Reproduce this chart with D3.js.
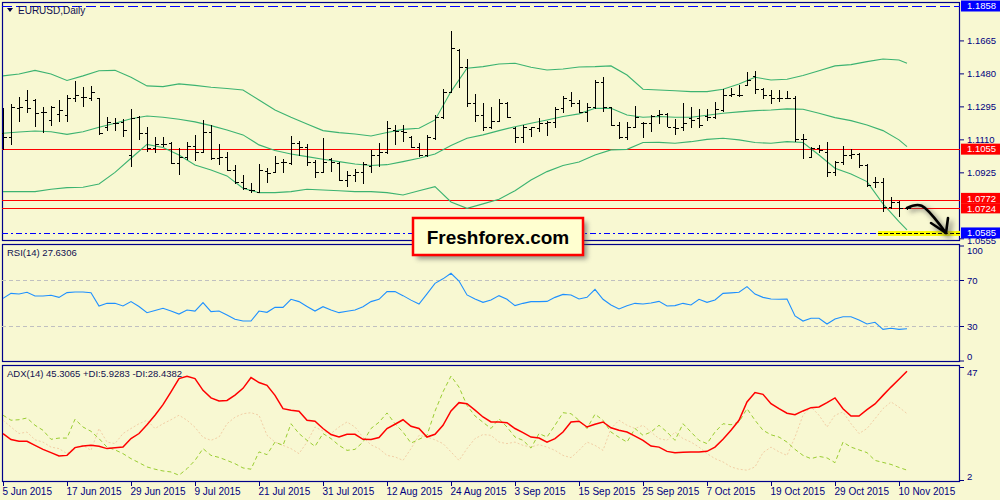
<!DOCTYPE html>
<html>
<head>
<meta charset="utf-8">
<script src="https://cdn.jsdelivr.net/npm/d3@7"></script>
<style>
  body { margin: 0; background: #f8f8d2; }
  svg { display: block; }
</style>
</head>
<body>
<svg id="chart"></svg>
<script>
const width = 1000;
const height = 500;

// date ticks (bar index -> label)
const tickIdx = [0, 8, 16, 24, 32, 40, 48, 56, 64, 72, 80, 88, 96, 104, 112];
const tickLabels = ["5 Jun 2015", "17 Jun 2015", "29 Jun 2015", "9 Jul 2015", "21 Jul 2015",
  "31 Jul 2015", "12 Aug 2015", "24 Aug 2015", "3 Sep 2015", "15 Sep 2015", "25 Sep 2015",
  "7 Oct 2015", "19 Oct 2015", "29 Oct 2015", "10 Nov 2015"];

// price axis
const priceTicks = [1.1665, 1.1480, 1.1295, 1.1110, 1.0925, 1.0555];
const redLevels = [1.1055, 1.0772, 1.0724];
const blueLevels = [1.1858, 1.0585];

// EURUSD daily bars
const opens = [1.1144,1.1125,1.1284,1.1331,1.1331,1.1261,1.1219,1.1253,1.1247,1.1340,1.1350,1.1340,1.1340,1.1182,1.1204,1.1210,
  1.1023,1.1238,1.1144,1.1060,1.1084,1.1088,1.0976,1.1013,1.1075,1.1041,1.1153,1.1004,1.1013,1.0938,1.0873,1.0826,
  1.0817,1.0935,1.0929,1.0985,1.0976,1.1092,1.1069,1.0985,1.0929,1.0998,1.0976,1.0882,1.0910,1.0929,1.0961,1.1023,
  1.1041,1.1163,1.1159,1.1125,1.1069,1.1023,1.1116,1.1238,1.1378,1.1612,1.1518,1.1312,1.1247,1.1182,1.1215,1.1312,
  1.1172,1.1125,1.1167,1.1172,1.1204,1.1210,1.1284,1.1331,1.1316,1.1266,1.1290,1.1434,1.1290,1.1191,1.1125,1.1182,
  1.1204,1.1200,1.1247,1.1253,1.1182,1.1182,1.1229,1.1229,1.1241,1.1234,1.1275,1.1359,1.1359,1.1415,1.1466,1.1391,
  1.1359,1.1340,1.1340,1.1344,1.1110,1.1013,1.1060,1.1041,1.0929,1.0985,1.1023,1.1028,1.0966,1.0873,1.0873,1.0733,
  1.0761,1.0723];
const highs = [1.1284,1.1309,1.1346,1.1387,1.1335,1.1294,1.1298,1.1331,1.1359,1.1438,1.1402,1.1410,1.1344,1.1238,1.1229,1.1223,
  1.1281,1.1242,1.1182,1.1125,1.1122,1.1097,1.1060,1.1097,1.1135,1.1219,1.1191,1.1084,1.1041,1.0966,1.0910,1.0867,
  1.0972,1.0948,1.1017,1.0998,1.1129,1.1103,1.1084,1.0994,1.1120,1.1004,1.0985,1.0935,1.0942,1.0981,1.1051,1.1092,
  1.1215,1.1191,1.1191,1.1129,1.1092,1.1135,1.1247,1.1391,1.1720,1.1615,1.1559,1.1363,1.1312,1.1294,1.1335,1.1322,
  1.1182,1.1191,1.1182,1.1229,1.1215,1.1294,1.1353,1.1378,1.1331,1.1312,1.1443,1.1462,1.1294,1.1206,1.1210,1.1298,
  1.1210,1.1247,1.1275,1.1257,1.1223,1.1316,1.1290,1.1282,1.1282,1.1322,1.1391,1.1396,1.1415,1.1490,1.1494,1.1396,
  1.1387,1.1387,1.1383,1.1353,1.1140,1.1069,1.1079,1.1097,1.0991,1.1073,1.1056,1.1032,1.0972,1.0901,1.0892,1.0789,
  1.0766,1.0731];
const lows = [1.1051,1.1079,1.1210,1.1257,1.1182,1.1148,1.1186,1.1210,1.1210,1.1322,1.1290,1.1327,1.1135,1.1157,1.1159,1.1125,
  1.0954,1.1107,1.1041,1.1032,1.1069,1.0972,1.0910,1.0994,1.0991,1.1032,1.0994,1.0965,1.0935,1.0860,1.0826,1.0807,
  1.0811,1.0867,1.0929,1.0923,1.0966,1.1017,1.0961,1.0892,1.0920,1.0929,1.0879,1.0845,1.0873,1.0858,1.0923,1.0957,
  1.1028,1.1079,1.1097,1.1060,1.1013,1.1013,1.1107,1.1226,1.1368,1.1396,1.1290,1.1206,1.1157,1.1166,1.1210,1.1229,
  1.1088,1.1088,1.1122,1.1153,1.1131,1.1172,1.1260,1.1290,1.1257,1.1210,1.1279,1.1266,1.1186,1.1110,1.1107,1.1172,
  1.1116,1.1150,1.1196,1.1180,1.1135,1.1157,1.1172,1.1176,1.1213,1.1223,1.1266,1.1346,1.1350,1.1410,1.1365,1.1335,
  1.1309,1.1322,1.1335,1.1097,1.0998,1.1004,1.1032,1.0897,1.0905,1.0966,1.0998,1.0948,1.0845,1.0836,1.0705,1.0718,
  1.0673,1.0716];
const closes = [1.1125,1.1294,1.1294,1.1284,1.1257,1.1261,1.1290,1.1275,1.1340,1.1359,1.1350,1.1378,1.1144,1.1210,1.1204,1.1163,
  1.1229,1.1144,1.1060,1.1084,1.1084,1.0976,1.1013,1.1075,1.1041,1.1153,1.1004,1.1013,1.0938,1.0873,1.0836,1.0826,
  1.0938,1.0920,1.0976,1.0985,1.1088,1.1069,1.0985,1.0929,1.0985,1.0985,1.0882,1.0910,1.0929,1.0972,1.1023,1.1041,
  1.1172,1.1159,1.1153,1.1069,1.1023,1.1125,1.1238,1.1378,1.1621,1.1518,1.1312,1.1247,1.1182,1.1215,1.1312,1.1234,
  1.1125,1.1182,1.1182,1.1200,1.1210,1.1279,1.1340,1.1312,1.1266,1.1290,1.1434,1.1294,1.1191,1.1125,1.1182,1.1238,
  1.1200,1.1241,1.1253,1.1182,1.1172,1.1200,1.1219,1.1191,1.1234,1.1281,1.1359,1.1363,1.1359,1.1443,1.1391,1.1359,
  1.1340,1.1340,1.1344,1.1110,1.1110,1.1060,1.1051,1.0929,1.0985,1.1023,1.1028,1.0966,1.0854,1.0873,1.0733,1.0761,
  1.0723,1.0726];

// Bollinger bands, read every second bar
const bandIdx = [0,2,4,6,8,10,12,14,16,18,20,22,24,26,28,30,32,34,36,38,40,42,44,46,48,50,52,54,56,58,60,62,
  64,66,68,70,72,74,76,78,80,82,84,86,88,90,92,94,96,98,100,102,104,106,108,110,112,113];
const bbUpper = [1.1466,1.1477,1.1497,1.1477,1.1440,1.1466,1.1495,1.1497,1.1458,1.1410,1.1406,1.1421,1.1413,1.1402,1.1395,1.1387,
  1.1331,1.1275,1.1234,1.1196,1.1159,1.1148,1.1140,1.1129,1.1148,1.1166,1.1172,1.1219,1.1378,1.1509,1.1518,1.1533,
  1.1537,1.1514,1.1499,1.1505,1.1516,1.1518,1.1522,1.1471,1.1391,1.1387,1.1383,1.1378,1.1378,1.1391,1.1421,
  1.1458,1.1443,1.1447,1.1468,1.1495,1.1522,1.1529,1.1546,1.1561,1.1555,1.1537];
const bbMiddle = [1.1144,1.1151,1.1157,1.1153,1.1138,1.1153,1.1178,1.1200,1.1226,1.1241,1.1234,1.1223,1.1208,1.1187,1.1163,1.1135,
  1.1079,1.1047,1.1028,1.1013,1.0998,1.0985,1.0972,1.0963,1.0968,1.0985,1.1004,1.1028,1.1075,1.1116,1.1135,1.1159,
  1.1181,1.1200,1.1219,1.1238,1.1253,1.1284,1.1284,1.1247,1.1234,1.1238,1.1234,1.1234,1.1245,1.1256,1.1264,
  1.1271,1.1275,1.1281,1.1279,1.1256,1.1232,1.1215,1.1191,1.1159,1.1107,1.1069];
const bbLower = [1.0817,1.0817,1.0817,1.0830,1.0839,1.0841,1.0860,1.0925,1.1004,1.1082,1.1064,1.1022,1.0966,1.0938,1.0905,1.0836,
  1.0811,1.0811,1.0817,1.0830,1.0826,1.0822,1.0817,1.0817,1.0811,1.0798,1.0822,1.0845,1.0759,1.0723,1.0748,1.0774,
  1.0822,1.0882,1.0929,1.0963,1.0983,1.1022,1.1051,1.1054,1.1092,1.1093,1.1088,1.1097,1.1110,1.1116,1.1107,
  1.1092,1.1088,1.1097,1.1092,1.1022,1.0948,1.0916,1.0873,1.0748,1.0649,1.0602];

// RSI(14), one value per bar
const rsi = [54,58.4,57.8,59.3,56.1,56.1,56.7,54.9,59,59.6,59.6,59,47.4,49.7,49.7,47.4,
  51.2,47,41.6,43.5,45.4,43,40.4,43.9,43,50.3,42.5,43,39.5,35.8,34.3,34.3,
  43,41.9,46.2,46.2,53.2,51.2,47,43,46.8,44,41.6,42.8,43.9,46.8,51.2,53.2,
  59.9,59.9,56.4,52.5,49.1,58,67.1,71,75.8,69.1,57,53.5,50.6,52.6,56.4,53.2,
  47.7,49.7,51.2,51.2,51.4,54.9,57.5,56.9,53.5,54.9,61.9,53.2,48.3,44.8,47.7,49.7,
  49.1,50,51.4,47.4,47.7,49.7,48.3,53.2,50.6,52.6,58.4,58.8,59.3,64.2,57.8,54.9,
  53.5,53.2,53.5,38.7,34.3,36.7,36.7,31.7,36.1,38.1,38.1,35.2,31.7,33.2,27.1,28,
  27.1,27.63];
const rsiLevels = [30, 70];
const rsiTicks = [100, 70, 30, 0];

// ADX(14) with +DI / -DI, one value per bar
const adx = [20.5,18.1,17.4,17.4,15.8,14.2,12.9,11.6,11.8,14.9,15.5,15.8,15.4,14.5,14.8,15.1,
  18.5,20.5,24,27.8,32,37.1,42.4,43.3,42.4,37.7,34.7,33.5,33.7,35.8,38.5,42.8,
  40.8,39.7,35.7,30.4,29.8,29.4,25.8,25.4,22.5,20.1,19.1,20.2,20.2,18.2,18.1,18.9,
  22.5,24.2,26,23.4,22.5,19.1,20.2,23.8,29.5,32.8,32.4,29.8,27.1,25.1,25.1,24.8,
  22.5,20.9,19.1,18.7,17.1,18.5,21.1,25.1,25.4,23.1,24.2,25.1,22.8,21.8,21.1,19.5,
  17.8,15.5,15.1,13.4,12.9,13.1,13.2,13.2,13.4,15.1,18.2,21.8,25.8,33.1,36.8,36.1,
  32.4,30.4,28.6,28,29.5,30.8,31.1,32.8,34.7,30.4,27.5,27.5,30,32.3,35.7,39,
  42.1,45.31];
const plusDI = [27.8,25.8,26,26.7,23.8,21.8,18.2,18.7,18.7,26.2,23.1,21.4,18.5,15.1,14,12.5,
  10.5,8.9,7.2,6.3,5.6,5.2,3.9,6.5,9.8,14.5,11.8,11,9.8,8.5,6.8,6.3,
  13.2,12.1,17.1,15.8,24.4,20.5,17.8,15.4,20.5,18.5,15.8,13.8,14.2,17.1,22.5,25,
  28.7,24.4,21.1,16.7,18.2,19.8,29.4,37.1,43.4,39,31.7,27.5,25,22.5,26.4,23.1,
  19.1,17.8,14.7,20.5,19.1,23.8,28.8,28.4,25.8,22.5,28.2,25.8,21.1,19,17.1,22.5,
  19.8,21.1,23.8,21.1,17.8,24.4,21.1,17.8,16.5,21.1,24.4,24,25.1,30.4,25.8,21.8,
  20,19.1,17.1,14.2,11.8,10.5,11.4,10.8,8.9,17.1,15.1,14,12.9,9.8,9,8.2,
  7,5.93];
const minusDI = [25.8,23.1,20.5,21.1,18,17.1,15.1,14.5,12.5,15.1,15.8,13.8,22.5,17.1,16.5,20.5,
  22.5,24.4,25.8,22.5,24.4,26,27.8,25.8,23,19,17.8,19.1,24.4,27,28.4,28.8,
  27.8,19.8,17.1,15.8,14.5,12.5,17.1,23.1,21.5,20.5,23.1,25.1,23.1,19,16,14.5,
  11.8,11.2,9.8,14.5,19.8,19.1,18,16.5,13.2,9.8,14.5,18.5,20.1,19.8,17.1,16.5,
  17.1,15.8,15.1,16.1,15.1,13.8,11.8,10.9,13.8,17.1,15.8,13.8,22.5,25.8,23.8,22.5,
  23.8,21.1,18.5,17.8,21.1,18.5,17.1,15.1,12.5,10.5,9.2,7.2,6.3,5.9,7.2,12.9,
  15.1,13.2,11.8,19.1,27.8,31.1,27.8,23.1,27.8,29.1,24.4,20.5,22.5,26.4,30.4,33.1,
  31,28.44];
const adxTicks = [47, 2];

const font = "'Liberation Sans', Arial, sans-serif";
const navy = "#000080";

let svg = d3.select("#chart")
  .attr("width", width)
  .attr("height", height)
  .style("background", "#f8f8d2");

// panels
const left = 2, right = 960;
const panels = {
  main: {top: 2, bottom: 241},
  rsi: {top: 244, bottom: 362},
  adx: {top: 365, bottom: 482}
};

const x = d3.scaleLinear().domain([0, 112]).range([3, 899]);
const yPrice = d3.scaleLinear().domain([1.0555, 1.1858]).range([238.3, 6]);
const yRsi = d3.scaleLinear().domain([0, 100]).range([360.5, 245.5]);
const yAdx = d3.scaleLinear().domain([2, 47]).range([480, 367]);

let defs = svg.append("defs");
Object.keys(panels).forEach(function(k) {
  defs.append("clipPath").attr("id", "clip-" + k)
    .append("rect")
    .attr("x", left).attr("y", panels[k].top)
    .attr("width", right - left).attr("height", panels[k].bottom - panels[k].top);
});
let shadow = defs.append("filter").attr("id", "shadow")
  .attr("x", "-20%").attr("y", "-20%").attr("width", "150%").attr("height", "160%");
shadow.append("feGaussianBlur").attr("stdDeviation", 2.5);

Object.keys(panels).forEach(function(k) {
  svg.append("rect")
    .attr("x", left + 0.5).attr("y", panels[k].top + 0.5)
    .attr("width", right - left - 1).attr("height", panels[k].bottom - panels[k].top - 1)
    .attr("fill", "#f8f8d2")
    .attr("stroke", "#00008b")
    .attr("stroke-width", 1.2);
});

// ---------- main panel ----------
let main = svg.append("g").attr("clip-path", "url(#clip-main)");

// horizontal levels
main.selectAll(".red-level").data(redLevels).enter().append("line")
  .attr("x1", left).attr("x2", right)
  .attr("y1", d => Math.round(yPrice(d)) + 0.5).attr("y2", d => Math.round(yPrice(d)) + 0.5)
  .attr("stroke", "#ff0000").attr("stroke-width", 1);

main.append("line")
  .attr("x1", left).attr("x2", right)
  .attr("y1", Math.round(yPrice(blueLevels[0])) + 0.5).attr("y2", Math.round(yPrice(blueLevels[0])) + 0.5)
  .attr("stroke", "#0000ff").attr("stroke-dasharray", "10,4");
main.append("line")
  .attr("x1", left).attr("x2", right)
  .attr("y1", Math.round(yPrice(blueLevels[1])) + 0.5).attr("y2", Math.round(yPrice(blueLevels[1])) + 0.5)
  .attr("stroke", "#0000ff").attr("stroke-dasharray", "6,3,2,3");

// yellow target zone
main.append("rect")
  .attr("x", 878).attr("y", yPrice(blueLevels[1]) - 2)
  .attr("width", right - 878).attr("height", 5)
  .attr("fill", "#ffff00");
main.append("line")
  .attr("x1", 878).attr("x2", right)
  .attr("y1", Math.round(yPrice(blueLevels[1])) + 0.5).attr("y2", Math.round(yPrice(blueLevels[1])) + 0.5)
  .attr("stroke", "#000").attr("stroke-dasharray", "4,2");

// bollinger bands
let bandLine = d3.line()
  .x((d, k) => x(bandIdx[k]))
  .y(d => yPrice(d));
[bbUpper, bbMiddle, bbLower].forEach(function(band) {
  main.append("path")
    .attr("d", bandLine(band))
    .attr("fill", "none")
    .attr("stroke", "#3cb371")
    .attr("stroke-width", 1.1);
});

// OHLC bars
let bars = main.append("g")
  .attr("stroke", "#000")
  .attr("stroke-width", 1)
  .attr("shape-rendering", "crispEdges");
closes.forEach(function(c, i) {
  const bx = Math.round(x(i)) + 0.5;
  bars.append("line")
    .attr("x1", bx).attr("x2", bx)
    .attr("y1", yPrice(highs[i])).attr("y2", yPrice(lows[i]));
  bars.append("line")
    .attr("x1", bx - 3).attr("x2", bx)
    .attr("y1", Math.round(yPrice(opens[i])) + 0.5).attr("y2", Math.round(yPrice(opens[i])) + 0.5);
  bars.append("line")
    .attr("x1", bx).attr("x2", bx + 3)
    .attr("y1", Math.round(yPrice(c)) + 0.5).attr("y2", Math.round(yPrice(c)) + 0.5);
});

// hand drawn arrow
const arrowPath = "M907,208 C913,205 920,203 925,208 C932,214 938,222 946,233";
const headPath = "M931,223 L946,233 L948,218";
svg.append("path").attr("d", arrowPath + " " + headPath)
  .attr("transform", "translate(3,3)")
  .attr("fill", "none").attr("stroke", "#555").attr("stroke-width", 4)
  .attr("opacity", 0.6).attr("filter", "url(#shadow)");
svg.append("path").attr("d", arrowPath)
  .attr("fill", "none").attr("stroke", "#000").attr("stroke-width", 2.6)
  .attr("stroke-linecap", "round");
svg.append("path").attr("d", headPath)
  .attr("fill", "none").attr("stroke", "#000").attr("stroke-width", 2.6)
  .attr("stroke-linecap", "round").attr("stroke-linejoin", "round");

// title
svg.append("path").attr("d", "M7,8 L13,8 L10,12 Z").attr("fill", "#000040");
svg.append("text")
  .attr("x", 18).attr("y", 14)
  .attr("font-family", font).attr("font-size", "10px")
  .attr("fill", "#101050")
  .text("EURUSD,Daily");

// ---------- RSI panel ----------
let rsiG = svg.append("g").attr("clip-path", "url(#clip-rsi)");
rsiG.selectAll(".lvl").data(rsiLevels).enter().append("line")
  .attr("x1", left).attr("x2", right)
  .attr("y1", d => Math.round(yRsi(d)) + 0.5).attr("y2", d => Math.round(yRsi(d)) + 0.5)
  .attr("stroke", "#c0c0c0").attr("stroke-dasharray", "4,3");
rsiG.append("path")
  .attr("d", d3.line().x((d, i) => x(i)).y(d => yRsi(d))(rsi))
  .attr("fill", "none").attr("stroke", "#1e90ff").attr("stroke-width", 1.1);
svg.append("text")
  .attr("x", 7).attr("y", 256)
  .attr("font-family", font).attr("font-size", "9.5px")
  .attr("fill", "#101050")
  .text("RSI(14) 27.6306");

// ---------- ADX panel ----------
let adxG = svg.append("g").attr("clip-path", "url(#clip-adx)");
let adxLine = d3.line().x((d, i) => x(i)).y(d => yAdx(d));
adxG.append("path").attr("d", adxLine(minusDI))
  .attr("fill", "none").attr("stroke", "#f2cfa6").attr("stroke-dasharray", "2,2");
adxG.append("path").attr("d", adxLine(plusDI))
  .attr("fill", "none").attr("stroke", "#9acd32").attr("stroke-dasharray", "4,3");
adxG.append("path").attr("d", adxLine(adx))
  .attr("fill", "none").attr("stroke", "#ff0000").attr("stroke-width", 1.5);
svg.append("text")
  .attr("x", 7).attr("y", 377)
  .attr("font-family", font).attr("font-size", "9.5px")
  .attr("fill", "#101050")
  .text("ADX(14) 45.3065 +DI:5.9283 -DI:28.4382");

// ---------- axes ----------
function styleAxis(g) {
  g.select(".domain").remove();
  g.selectAll("line").attr("stroke", navy);
  g.selectAll("text")
    .attr("fill", navy)
    .attr("font-family", font)
    .attr("font-size", "9.5px");
}

svg.append("g")
  .attr("transform", `translate(${right},0)`)
  .call(d3.axisRight(yPrice).tickValues(priceTicks).tickSize(4).tickPadding(3).tickFormat(d3.format(".4f")))
  .call(styleAxis)
  .selectAll("text")
  .attr("dy", d => d === 1.0555 ? "0.55em" : "0.32em");

svg.append("g")
  .attr("transform", `translate(${right},0)`)
  .call(d3.axisRight(yRsi).tickValues(rsiTicks).tickSize(4).tickPadding(3))
  .call(styleAxis)
  .selectAll("text")
  .attr("dy", d => d === 100 ? "0.85em" : d === 0 ? "-0.1em" : "0.32em");

svg.append("g")
  .attr("transform", `translate(${right},0)`)
  .call(d3.axisRight(yAdx).tickValues(adxTicks).tickSize(4).tickPadding(3))
  .call(styleAxis)
  .selectAll("text")
  .attr("dy", d => d === 47 ? "0.85em" : "-0.1em");

let xAxis = svg.append("g")
  .attr("transform", `translate(0,${panels.adx.bottom})`)
  .call(d3.axisBottom(x).tickValues(tickIdx).tickSize(4).tickPadding(2)
    .tickFormat((d, i) => tickLabels[i]))
  .call(styleAxis);
xAxis.selectAll("text").attr("text-anchor", "start").attr("x", -1).attr("font-size", "10px");

// highlighted price labels, stacked where two of them would collide
let labels = redLevels.map(v => ({v: v, color: "#ff0000"}))
  .concat(blueLevels.map(v => ({v: v, color: "#0000ff"})))
  .map(d => Object.assign(d, {top: yPrice(d.v) - 5.5, h: 11}))
  .sort((a, b) => a.top - b.top);
for (let k = 1; k < labels.length; k++) {
  const prev = labels[k - 1], cur = labels[k];
  if (cur.top < prev.top + prev.h) {
    const mid = (yPrice(prev.v) + yPrice(cur.v)) / 2;
    prev.top = mid - 11; prev.h = 11;
    cur.top = mid; cur.h = 9.5;
  }
}
labels.forEach(function(d) {
  svg.append("rect")
    .attr("x", right + 1).attr("y", d.top)
    .attr("width", width - right - 1).attr("height", d.h)
    .attr("fill", d.color);
  svg.append("text")
    .attr("x", right + 7).attr("y", d.top + (d.h < 11 ? 8.6 : 8.8))
    .attr("font-family", font).attr("font-size", "9.5px")
    .attr("fill", "#fff")
    .text(d3.format(".4f")(d.v));
});

// watermark
let wm = svg.append("g");
wm.append("rect")
  .attr("x", 417).attr("y", 222).attr("width", 170).attr("height", 37)
  .attr("fill", "#555").attr("opacity", 0.6).attr("filter", "url(#shadow)");
wm.append("rect")
  .attr("x", 413).attr("y", 218).attr("width", 170).attr("height", 37)
  .attr("fill", "#ffffd0").attr("stroke", "#ff0000").attr("stroke-width", 2.5);
wm.append("text")
  .attr("x", 498).attr("y", 244)
  .attr("text-anchor", "middle")
  .attr("font-family", font).attr("font-weight", "bold").attr("font-size", "19px")
  .attr("fill", "#000")
  .text("Freshforex.com");
</script>
</body>
</html>
